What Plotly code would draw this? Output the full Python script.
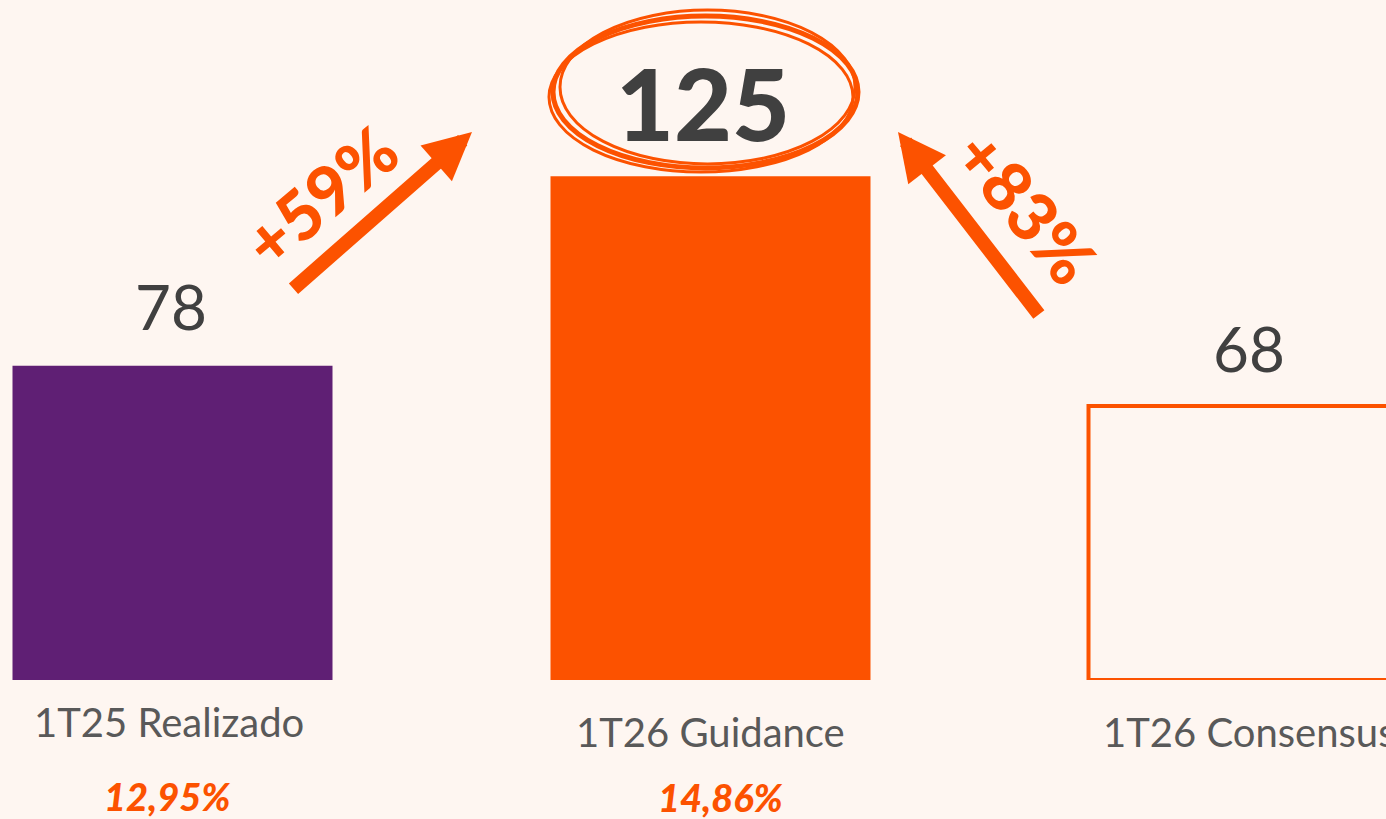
import plotly.graph_objects as go

# ---------------- data ----------------
categories = ["1T25 Realizado", "1T26 Guidance", "1T26 Consensus"]
values = [78, 125, 68]
margin_labels = ["12,95%", "14,86%"]
growth_labels = ["+59%", "+83%"]

# ---------------- style ----------------
W, H = 1386, 819
PLOT_H = 680
BG = "#FEF6F1"
ORANGE = "#FC5200"
PURPLE = "#5F1F74"
DARK = "#404040"
GRAY = "#595959"
FONT = "Lato"

CAT_PX = 538.0          # pixels between category centres
FIRST_PX = 172.5        # pixel position of first category
PX_PER_UNIT = 4.03      # vertical pixels per value unit

x_left = -FIRST_PX / CAT_PX
x_range = [x_left, x_left + W / CAT_PX]
y_range = [0, PLOT_H / PX_PER_UNIT]


def xp(px):
    return px / W


def yp(py):
    return (PLOT_H - py) / PLOT_H


x_pos = list(range(len(categories)))

fig = go.Figure(
    go.Bar(
        x=x_pos,
        y=values,
        width=320 / CAT_PX,
        marker=dict(
            color=[PURPLE, ORANGE, BG],
            line=dict(color=[PURPLE, ORANGE, ORANGE], width=[0, 0, 4]),
        ),
        hoverinfo="skip",
    )
)

annotations = []

# value labels above bars
val_shift = [60, 74, 58]
val_xshift = [-2, -8, 0]
val_size = [62, 100, 62]
val_weight = [400, 900, 400]
for i, v in enumerate(values):
    annotations.append(dict(
        x=x_pos[i], y=v, xref="x", yref="y", text=str(v), showarrow=False,
        yanchor="middle", yshift=val_shift[i], xshift=val_xshift[i],
        font=dict(family=FONT, size=val_size[i], color=DARK, weight=val_weight[i]),
    ))

# category labels
cat_py = [722, 732, 732]
cat_xshift = [-4, 0, 0]
for i, c in enumerate(categories):
    annotations.append(dict(
        x=x_pos[i], y=yp(cat_py[i]), xref="x", yref="paper", text=c,
        showarrow=False, yanchor="middle", xshift=cat_xshift[i],
        font=dict(family=FONT, size=40, color=GRAY, weight=400),
    ))

# margin percentages
pct_py = [796, 797]
pct_xshift = [-6, 10]
for i, m in enumerate(margin_labels):
    annotations.append(dict(
        x=x_pos[i], y=yp(pct_py[i]), xref="x", yref="paper",
        text="<i>" + m + "</i>", showarrow=False, yanchor="middle",
        xshift=pct_xshift[i],
        font=dict(family=FONT, size=38, color=ORANGE, weight=900),
    ))

# arrows
arrows = [((472, 132), (-180, 158)), ((898, 132), (142, 184))]
for (tx, ty), (ax, ay) in arrows:
    annotations.append(dict(
        x=xp(tx), y=yp(ty), xref="paper", yref="paper", text="",
        showarrow=True, ax=ax, ay=ay, axref="pixel", ayref="pixel",
        arrowhead=2, arrowwidth=14, arrowsize=0.68, arrowcolor=ORANGE,
        standoff=0,
    ))

# growth labels along arrows
growth_pos = [(320, 196, -40), (1027, 206, 50)]
for (gx, gy, ang), g in zip(growth_pos, growth_labels):
    annotations.append(dict(
        x=xp(gx), y=yp(gy), xref="paper", yref="paper", text=g,
        showarrow=False, textangle=ang, xanchor="center", yanchor="middle",
        font=dict(family=FONT, size=68, color=ORANGE, weight=900),
    ))

# hand-drawn style ellipse around the guidance value
ellipses = [
    (553, 16, 858, 168, 5),
    (549, 22, 853, 172, 3),
    (560, 10, 855, 164, 3),
]
shapes = []
for x0, y0, x1, y1, w in ellipses:
    shapes.append(dict(
        type="circle", xref="paper", yref="paper",
        x0=xp(x0), x1=xp(x1), y0=yp(y1), y1=yp(y0),
        line=dict(color=ORANGE, width=w),
    ))

fig.update_layout(
    width=W, height=H,
    margin=dict(l=0, r=0, t=0, b=H - PLOT_H, pad=0),
    paper_bgcolor=BG, plot_bgcolor=BG,
    showlegend=False,
    xaxis=dict(range=x_range, visible=False, fixedrange=True),
    yaxis=dict(range=y_range, visible=False, fixedrange=True),
    annotations=annotations,
    shapes=shapes,
)

fig.write_html(
    "out.html",
    config={"displayModeBar": False},
    post_script="document.body.style.margin='0';document.body.style.background='" + BG + "';document.body.style.overflow='hidden';",
)
